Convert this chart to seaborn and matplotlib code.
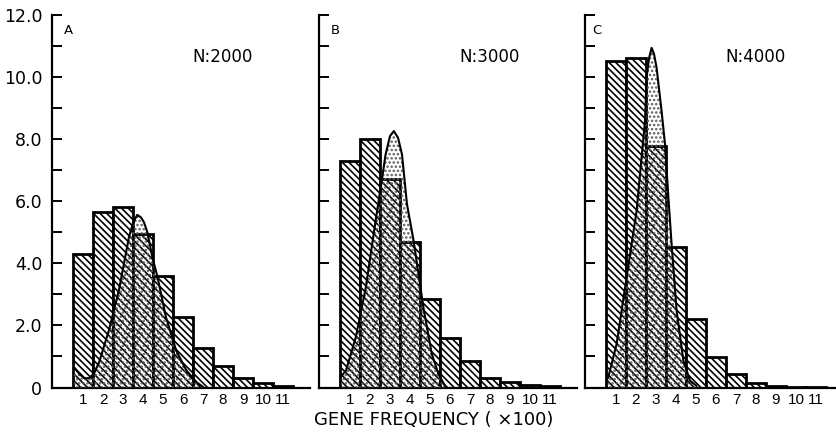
import matplotlib
matplotlib.use("Agg")
import matplotlib.pyplot as plt
import seaborn as sns
import pandas as pd

# ---------------- data ----------------
gene_freq = [1, 2, 3, 4, 5, 6, 7, 8, 9, 10, 11]
tick_labels_x = ["1", "2", "3", "4", "5", "6", "7", "8", "9", "10", "11"]

a_obs = [4.30, 5.64, 5.80, 4.94, 3.59, 2.28, 1.27, 0.70, 0.30, 0.14, 0.04]
b_obs = [7.31, 8.00, 6.72, 4.68, 2.85, 1.58, 0.86, 0.32, 0.19, 0.09, 0.05]
c_obs = [10.52, 10.62, 7.78, 4.54, 2.22, 0.98, 0.43, 0.14, 0.05, 0.02, 0.01]

a_curve_x = [0.55, 0.8, 1.05, 1.3, 1.55, 1.8, 2.3, 2.8, 3.3, 3.5, 3.71, 3.9, 4.05, 4.22, 4.47, 4.73, 5.15, 5.66, 6.17, 6.68, 7.0]
a_curve_y = [0.65, 0.45, 0.3, 0.3, 0.45, 0.8, 1.85, 3.15, 4.85, 5.3, 5.56, 5.48, 5.32, 5.0, 4.19, 3.55, 2.26, 1.19, 0.55, 0.17, 0.02]

b_curve_x = [0.55, 0.8, 1.29, 1.79, 2.28, 2.61, 2.78, 3.0, 3.19, 3.4, 3.6, 3.85, 4.18, 4.67, 5.09, 5.42, 5.75]
b_curve_y = [0.35, 0.55, 1.62, 3.22, 5.37, 6.76, 7.51, 8.1, 8.26, 8.05, 7.51, 5.9, 4.73, 2.58, 1.08, 0.44, 0.05]

c_curve_x = [0.6, 0.7, 1.03, 1.53, 2.03, 2.45, 2.53, 2.65, 2.78, 2.9, 3.03, 3.28, 3.45, 3.62, 3.78, 4.03, 4.37, 4.7, 5.03]
c_curve_y = [0.3, 0.55, 1.40, 3.55, 5.69, 8.59, 9.98, 10.6, 10.94, 10.75, 10.3, 8.9, 7.84, 6.12, 4.62, 2.48, 0.87, 0.22, 0.05]

panel_letters = ["A", "B", "C"]
panel_n = ["N:2000", "N:3000", "N:4000"]
y_ticks = [0, 1, 2, 3, 4, 5, 6, 7, 8, 9, 10, 11, 12]
y_tick_labels = ["0", "", "2.0", "", "4.0", "", "6.0", "", "8.0", "", "10.0", "", "12.0"]
x_label = "GENE FREQUENCY ( ×100)"

# ---------------- style ----------------
sns.set_style("ticks")
plt.rcParams["font.family"] = ["DejaVu Sans"]
plt.rcParams["hatch.linewidth"] = 1.2
for key in ["text.color", "axes.edgecolor", "xtick.color", "ytick.color",
            "axes.labelcolor"]:
    plt.rcParams[key] = "black"

W, H = 837, 440
fig = plt.figure(figsize=(W / 100, H / 100), dpi=100)

px_per_unit = 20.0
y0_px, y12_px = 387.5, 15.0
bottom = (H - y0_px) / H
height = (y0_px - y12_px) / H
x_left_data = -0.55

panels = [
    (52, 258, a_obs, a_curve_x, a_curve_y, 0.25),
    (319, 258, b_obs, b_curve_x, b_curve_y, 0.25),
    (585, 252, c_obs, c_curve_x, c_curve_y, 0.05),
]

for i, (lpx, wpx, obs, cx, cy, letter_x) in enumerate(panels):
    ax = fig.add_axes([lpx / W, bottom, wpx / W, height])
    df = pd.DataFrame({"freq": gene_freq, "value": obs})
    sns.barplot(data=df, x="freq", y="value", native_scale=True, width=1.0,
                color="white", edgecolor="black", linewidth=2.0,
                saturation=1, ax=ax, zorder=2)
    for p in ax.patches:
        p.set_hatch("\\\\\\\\\\")
        p.set_facecolor("white")
        p.set_edgecolor("black")

    # stippled theoretical distribution
    ax.fill_between(cx, 0, cy, facecolor="none", edgecolor="0.35",
                    hatch="....", linewidth=0, zorder=3)
    sns.lineplot(x=cx, y=cy, sort=False, color="black", linewidth=1.5,
                 ax=ax, zorder=4)

    ax.set_xlim(x_left_data, x_left_data + wpx / px_per_unit)
    ax.set_ylim(0, 12)
    ax.set_xticks(gene_freq)
    ax.set_xticklabels(tick_labels_x, fontsize=11, family="Liberation Sans")
    ax.tick_params(axis="x", length=0, pad=4)
    ax.set_yticks(y_ticks)
    if i == 0:
        ax.set_yticklabels(y_tick_labels, fontsize=12.5)
    else:
        ax.set_yticklabels([""] * len(y_ticks))
    ax.tick_params(axis="y", direction="in", length=7, width=1.4, pad=7)
    for s in ["top", "right"]:
        ax.spines[s].set_visible(False)
    ax.spines["left"].set_linewidth(1.6)
    ax.spines["bottom"].set_linewidth(1.6)
    ax.set_xlabel("")
    ax.set_ylabel("")

    ax.text(letter_x, 11.5, panel_letters[i], fontsize=9.5, ha="center", va="center")
    ax.text(6.45, 10.65, panel_n[i], fontsize=12, ha="left", va="center")

fig.text(434 / W, 1 - 420 / H, x_label, fontsize=13, ha="center", va="center")

fig.savefig("out.png", dpi=100)
